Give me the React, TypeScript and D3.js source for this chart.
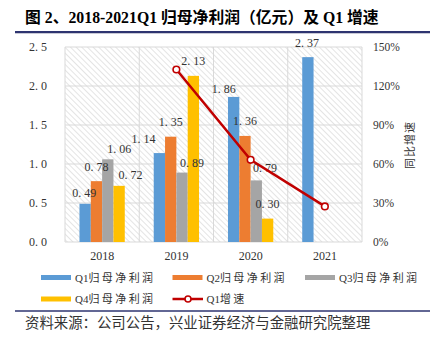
import React from "react";
import * as d3 from "d3";

const years = ["2018", "2019", "2020", "2021"];
const seriesNames = ["Q1归母净利润", "Q2归母净利润", "Q3归母净利润", "Q4归母净利润"];
const q1 = [0.49, 1.14, 1.86, 2.37];
const q2 = [0.78, 1.35, 1.36, null];
const q3 = [1.06, 0.89, 0.79, null];
const q4 = [0.72, 2.13, 0.30, null];
const q1Growth = [null, 132.7, 63.2, 27.4];
const leftTicks = [0, 0.5, 1.0, 1.5, 2.0, 2.5];
const rightTicks = [0, 30, 60, 90, 120, 150];

// label offsets (layout only): [dx, dy above bar top] per series per year
const labelOffsets: number[][][] = [
  [[-1, 7], [-16, 10], [-10, 4], [-1, 10]],
  [[0, 10], [0, 11], [0, 11], [0, 0]],
  [[11.5, 6], [10, 6], [8.7, 8], [0, 0]],
  [[11.5, 7], [0, 11], [0, 11], [0, 0]],
];

const colors = ["#5B9BD5", "#ED7D31", "#A5A5A5", "#FFC000"];
const lineColor = "#C00000";
const serif = "'Liberation Serif', 'DejaVu Serif', 'Noto Sans CJK SC', serif";
const cjk = "'Liberation Serif', 'Noto Sans CJK SC', serif";

function LegendText({ x, y, label }: { x: number; y: number; label: string }) {
  const head = label.slice(0, 2);
  const rest = label.slice(2);
  return (
    <text x={x} y={y} fontFamily={cjk} fontSize={11} fill="#333">
      <tspan>{head}</tspan>
      <tspan letterSpacing={2.4}>{rest}</tspan>
    </text>
  );
}

export default function App() {
  const W = 439, H = 341;
  const left = 65, right = 362, top = 47, bottom = 242;
  const x0 = d3.scaleBand().domain(years).range([left, right]).padding(0);
  const groupW = x0.bandwidth() * 0.61;
  const x1 = d3.scaleBand().domain(seriesNames).range([0, groupW]).padding(0);
  const y = d3.scaleLinear().domain([0, 2.5]).range([bottom, top]);
  const yr = d3.scaleLinear().domain([0, 150]).range([bottom, top]);
  const all = [q1, q2, q3, q4];
  const fmt = (v: number) => d3.format(".2f")(v).replace(".", ". ");
  const fmt1 = (v: number) => d3.format(".1f")(v).replace(".", ". ");

  const lineData = years.map((yy, i) => ({ yy, v: q1Growth[i] })).filter(d => d.v != null) as { yy: string; v: number }[];
  const line = d3.line<{ yy: string; v: number }>()
    .x(d => (x0(d.yy) as number) + x0.bandwidth() / 2)
    .y(d => yr(d.v));

  const legendItems = [
    { x: 41, y: 277.5, i: 0 },
    { x: 172.5, y: 277.5, i: 1 },
    { x: 305, y: 277.5, i: 2 },
    { x: 41, y: 299, i: 3 },
  ];

  return (
    <svg width={W} height={H} style={{ position: "absolute", left: 0, top: 0, background: "#fff" }}>
      <defs>
        <pattern id="hatch" patternUnits="userSpaceOnUse" width={4} height={4} patternTransform="rotate(-45)">
          <rect width={4} height={4} fill="#fff" />
          <line x1={0} y1={0} x2={0} y2={4} stroke="#d9d9d9" strokeWidth={1.4} />
        </pattern>
      </defs>
      <text x={25} y={23} fontFamily={cjk} fontWeight="bold" fontSize={15.8} fill="#000">
        图 2、2018-2021Q1 归母净利润（亿元）及 Q1 增速
      </text>
      <line x1={15} x2={430} y1={32} y2={32} stroke="#2E3470" strokeWidth={2} />
      <line x1={15} x2={430} y1={33.5} y2={33.5} stroke="#c8c9d6" strokeWidth={1} />

      <rect x={left} y={top} width={right - left} height={bottom - top} fill="url(#hatch)" />
      {leftTicks.map(t => (
        <line key={t} x1={left} x2={right} y1={y(t)} y2={y(t)} stroke="#d9d9d9" strokeWidth={1} />
      ))}
      {[...years.map(yy => x0(yy) as number), right].map((xx, i) => (
        <line key={i} x1={xx} x2={xx} y1={top} y2={bottom} stroke="#d9d9d9" strokeWidth={1} />
      ))}

      {all.map((ser, si) =>
        ser.map((v, yi) => {
          if (v == null) return null;
          const bx = (x0(years[yi]) as number) + (x0.bandwidth() - groupW) / 2 + (x1(seriesNames[si]) as number);
          return <rect key={si + "-" + yi} x={bx} y={y(v)} width={x1.bandwidth()} height={bottom - y(v)} fill={colors[si]} />;
        })
      )}
      {all.map((ser, si) =>
        ser.map((v, yi) => {
          if (v == null) return null;
          const bx = (x0(years[yi]) as number) + (x0.bandwidth() - groupW) / 2 + (x1(seriesNames[si]) as number) + x1.bandwidth() / 2;
          const [dx, dy] = labelOffsets[si][yi];
          return (
            <text key={"l" + si + "-" + yi} x={bx + dx} y={y(v) - dy} textAnchor="middle" fontFamily={serif} fontSize={12} fill="#333">
              {fmt(v)}
            </text>
          );
        })
      )}

      <path d={line(lineData) || ""} fill="none" stroke={lineColor} strokeWidth={2.5} />
      {lineData.map(d => (
        <circle key={d.yy} cx={(x0(d.yy) as number) + x0.bandwidth() / 2} cy={yr(d.v)} r={3.3} fill="#fff" stroke={lineColor} strokeWidth={1.6} />
      ))}

      {leftTicks.map(t => (
        <text key={t} x={47} y={y(t) + 4} textAnchor="end" fontFamily={serif} fontSize={12} fill="#333">
          {fmt1(t)}
        </text>
      ))}
      {rightTicks.map(t => (
        <text key={t} x={373} y={yr(t) + 4} textAnchor="start" fontFamily={serif} fontSize={11.5} fill="#333">
          {t + "%"}
        </text>
      ))}
      <text transform="translate(414,145) rotate(-90)" textAnchor="middle" fontFamily={cjk} fontSize={11} fill="#333" letterSpacing={1}>
        同比增速
      </text>
      {years.map(yy => (
        <text key={yy} x={(x0(yy) as number) + x0.bandwidth() / 2} y={260} textAnchor="middle" fontFamily={serif} fontSize={12} fill="#333">
          {yy}
        </text>
      ))}

      {legendItems.map(li => (
        <g key={li.i}>
          <line x1={li.x} x2={li.x + 30} y1={li.y} y2={li.y} stroke={colors[li.i]} strokeWidth={5} />
          <LegendText x={li.x + 34} y={li.y + 4} label={seriesNames[li.i]} />
        </g>
      ))}
      <g>
        <line x1={172.5} x2={203} y1={299} y2={299} stroke={lineColor} strokeWidth={2.5} />
        <circle cx={188} cy={299} r={3} fill="#fff" stroke={lineColor} strokeWidth={1.6} />
        <LegendText x={206.5} y={303} label="Q1增速" />
      </g>

      <line x1={15} x2={430} y1={311} y2={311} stroke="#2E3470" strokeWidth={1.5} />
      <text x={25} y={328} fontFamily={cjk} fontSize={14.4} fill="#333">
        资料来源：公司公告，兴业证券经济与金融研究院整理
      </text>
    </svg>
  );
}
